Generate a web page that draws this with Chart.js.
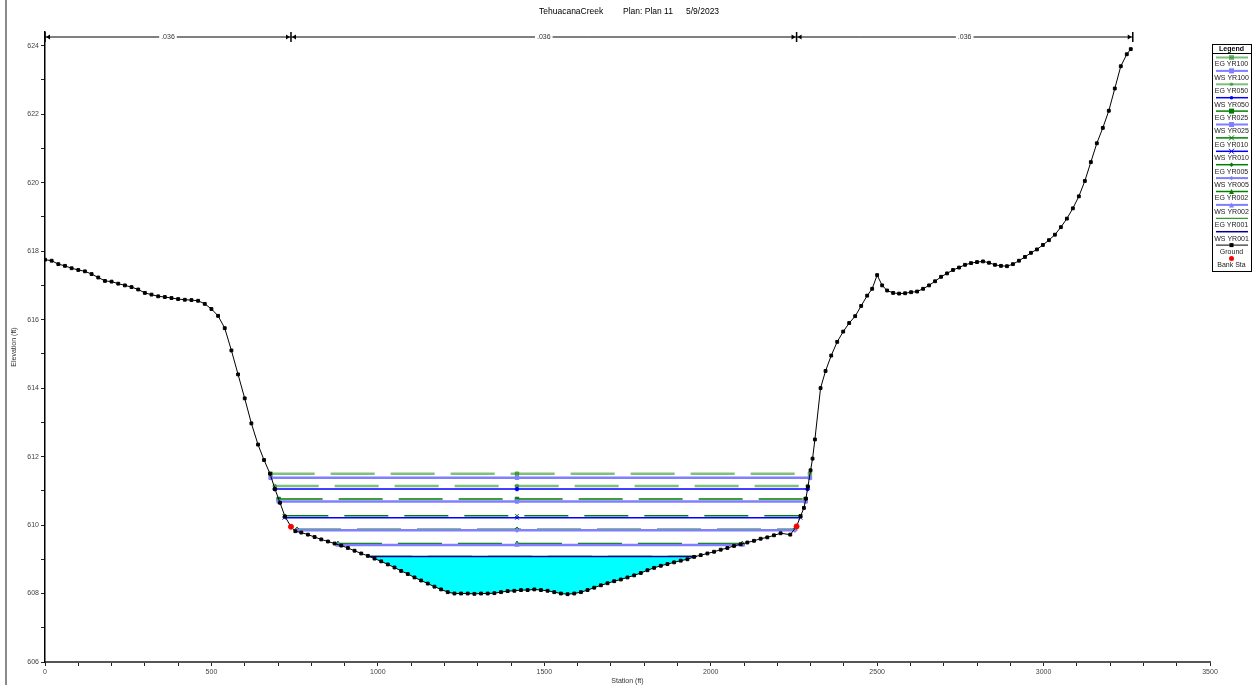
<!DOCTYPE html>
<html>
<head>
<meta charset="utf-8">
<script src="https://cdn.jsdelivr.net/npm/chart.js@4.4.0/dist/chart.umd.min.js"></script>
<style>
  html, body { margin: 0; padding: 0; background: #fff; overflow: hidden; }
  canvas { display: block; }
</style>
</head>
<body>
<canvas id="xs" width="1252" height="685"></canvas>
<script>
// ground profile (station ft, elevation ft)
const groundSta = [
  0, 20, 40, 60, 80, 100, 120, 140, 160, 180, 200, 220, 240, 260, 280, 300, 320, 340, 360, 380,
  400, 420, 440, 460, 480, 500, 520, 540, 560, 580, 600, 620, 640, 658, 676, 691, 706, 721, 739,
  752, 770, 790, 810, 830, 850, 870, 890, 910, 930, 950, 970, 990, 1010, 1030, 1050, 1070, 1090,
  1110, 1130, 1150, 1170, 1190, 1210, 1230, 1250, 1270, 1290, 1310, 1330, 1350, 1370, 1390, 1410,
  1430, 1450, 1470, 1490, 1510, 1530, 1550, 1570, 1590, 1610, 1630, 1650, 1670, 1690, 1710, 1730,
  1750, 1770, 1790, 1810, 1830, 1850, 1870, 1890, 1910, 1930, 1950, 1970, 1990, 2010, 2030, 2050,
  2070, 2090, 2110, 2130, 2150, 2170, 2190, 2210, 2239, 2258, 2270, 2280, 2286, 2292, 2300, 2306,
  2313, 2330, 2345, 2362, 2380, 2398, 2416, 2434, 2452, 2470, 2485, 2500, 2515, 2530, 2548, 2566,
  2584, 2602, 2620, 2638, 2656, 2674, 2692, 2710, 2728, 2746, 2764, 2782, 2800, 2818, 2836, 2854,
  2872, 2890, 2908, 2926, 2944, 2962, 2980, 2998, 3016, 3034, 3052, 3070, 3088, 3106, 3124, 3142,
  3160, 3178, 3196, 3214, 3232, 3250, 3262, 3268
];
const groundElev = [
  617.75, 617.72, 617.62, 617.57, 617.50, 617.45, 617.41, 617.33, 617.23, 617.13, 617.11, 617.05,
  617.00, 616.95, 616.88, 616.78, 616.73, 616.68, 616.66, 616.63, 616.60, 616.58, 616.57, 616.55,
  616.46, 616.31, 616.11, 615.75, 615.10, 614.40, 613.70, 612.97, 612.35, 611.90, 611.50, 611.05,
  610.65, 610.25, 609.95,
  609.82, 609.78, 609.72, 609.65, 609.58, 609.52, 609.46, 609.40, 609.33, 609.25, 609.17, 609.10,
  609.02, 608.94, 608.85, 608.76, 608.66, 608.57, 608.47, 608.38, 608.29, 608.20, 608.12, 608.04,
  608.00, 608.00, 608.00, 607.99, 608.00, 608.00, 608.01, 608.04, 608.07, 608.08, 608.10, 608.10,
  608.12, 608.10, 608.08, 608.04, 608.00, 607.98, 608.00, 608.04, 608.10, 608.17, 608.24, 608.30,
  608.36, 608.41, 608.47, 608.53, 608.60, 608.68, 608.75, 608.81, 608.86, 608.91, 608.96, 609.00,
  609.07, 609.12, 609.17, 609.22, 609.28, 609.33, 609.39, 609.44, 609.49, 609.54, 609.60, 609.64,
  609.70, 609.76, 609.72, 609.96, 610.26, 610.50, 610.77, 611.12, 611.60, 611.94,
  612.50, 614.00, 614.50, 614.95, 615.35, 615.65, 615.90, 616.10, 616.40, 616.70, 616.90, 617.30,
  617.00, 616.85, 616.78, 616.76, 616.77, 616.80, 616.82, 616.90, 617.00, 617.12, 617.25, 617.35,
  617.45, 617.52, 617.60, 617.65, 617.68, 617.70, 617.66, 617.60, 617.57, 617.56, 617.62, 617.72,
  617.83, 617.95, 618.05, 618.18, 618.32, 618.48, 618.70, 618.95, 619.25, 619.60, 620.05, 620.60,
  621.15, 621.60, 622.10, 622.75, 623.40, 623.75, 623.90
];
const bankSta = [739, 2258];
const bankElev = [609.95, 609.96];

// water surface / energy grade per profile
const profiles = ['YR100', 'YR050', 'YR025', 'YR010', 'YR005', 'YR002', 'YR001'];
const wsElev = [611.38, 611.05, 610.69, 610.21, 609.85, 609.42, 609.08];
const egElev = [611.50, 611.14, 610.76, 610.27, 609.88, 609.46, 609.09];
const leftSta = [678, 690, 702, 719, 757, 880, 970];
const rightSta = [2298, 2291, 2285, 2270, 2253, 2095, 1958];
const midSta = 1418;

// roughness bar across the top
const nBreaks = [0, 739, 2258, 3268];
const nValues = ['.036', '.036', '.036'];

// styling per profile
const egColors = ['rgba(0,128,0,0.5)', 'rgba(0,128,0,0.5)', '#008000', '#008000', '#008000', '#008000', '#008000'];
const egWidths = [2.5, 2.5, 1.5, 1.5, 1.5, 1.5, 1];
const wsColors = ['#7f7fff', '#0000ff', '#7f7fff', '#0000ff', '#7f7fff', '#7f7fff', '#00008b'];
const wsWidths = [2.5, 1.5, 2.5, 1.5, 2.5, 2.5, 1.5];
const markers = ['rect', 'circle', 'rect', 'crossRot', 'rectRot', 'triangle', false];
const markerSizes = [2.5, 1.8, 2.5, 2.5, 2.2, 2.5, 0];

const FONT = '"Liberation Sans", Arial, sans-serif';

const datasets = [];
profiles.forEach((p, i) => {
  const pts = (elev) => [{ x: leftSta[i], y: elev }, { x: midSta, y: elev }, { x: rightSta[i], y: elev }];
  datasets.push({
    label: 'EG ' + p,
    data: pts(egElev[i]),
    showLine: true,
    borderColor: egColors[i],
    backgroundColor: egColors[i],
    borderWidth: egWidths[i],
    borderDash: [44, 16],
    pointStyle: markers[i] || 'circle',
    pointRadius: markers[i] ? markerSizes[i] : 0,
    pointBorderWidth: 1,
    order: 10,
  });
  datasets.push({
    label: 'WS ' + p,
    data: pts(wsElev[i]),
    showLine: true,
    borderColor: wsColors[i],
    backgroundColor: wsColors[i],
    borderWidth: wsWidths[i],
    pointStyle: markers[i] || 'circle',
    pointRadius: markers[i] ? markerSizes[i] : 0,
    pointBorderWidth: 1,
    order: 9,
  });
});

const groundPts = groundSta.map((s, i) => ({ x: s, y: groundElev[i] }));
const wetPts = [{ x: leftSta[6], y: wsElev[6] }]
  .concat(groundPts.filter((p) => p.x > leftSta[6] && p.x < rightSta[6]))
  .concat([{ x: rightSta[6], y: wsElev[6] }]);

datasets.push({
  label: 'Ground',
  data: groundPts,
  showLine: true,
  borderColor: '#000',
  backgroundColor: '#000',
  borderWidth: 1,
  pointStyle: 'rect',
  pointRadius: 2,
  order: 2,
});
datasets.push({
  label: 'Bank Sta',
  data: bankSta.map((s, i) => ({ x: s, y: bankElev[i] })),
  showLine: false,
  borderColor: '#ff0000',
  backgroundColor: '#ff0000',
  pointStyle: 'circle',
  pointRadius: 2.5,
  order: 1,
});
datasets.push({
  label: 'wet',
  data: wetPts,
  showLine: true,
  borderWidth: 0,
  borderColor: 'rgba(0,0,0,0)',
  backgroundColor: '#00ffff',
  pointRadius: 0,
  fill: { value: wsElev[6] },
  order: 50,
});

function marker(ctx, style, x, y, r, color) {
  if (!style || !r) return;
  ctx.save();
  ctx.fillStyle = color;
  ctx.strokeStyle = color;
  ctx.lineWidth = 1;
  ctx.beginPath();
  if (style === 'rect') ctx.fillRect(x - r, y - r, 2 * r, 2 * r);
  else if (style === 'circle') { ctx.arc(x, y, r, 0, Math.PI * 2); ctx.fill(); }
  else if (style === 'rectRot') { ctx.moveTo(x, y - r); ctx.lineTo(x + r, y); ctx.lineTo(x, y + r); ctx.lineTo(x - r, y); ctx.closePath(); ctx.fill(); }
  else if (style === 'triangle') { ctx.moveTo(x, y - r); ctx.lineTo(x + r, y + r); ctx.lineTo(x - r, y + r); ctx.closePath(); ctx.fill(); }
  else if (style === 'crossRot') { ctx.moveTo(x - r, y - r); ctx.lineTo(x + r, y + r); ctx.moveTo(x + r, y - r); ctx.lineTo(x - r, y + r); ctx.stroke(); }
  ctx.restore();
}

const decorations = {
  id: 'decorations',
  beforeDraw(chart) {
    const ctx = chart.ctx;
    ctx.save();
    ctx.fillStyle = '#fff';
    ctx.fillRect(0, 0, chart.width, chart.height);
    ctx.fillStyle = '#8a8a8a';
    ctx.fillRect(5, 0, 2, chart.height);
    ctx.restore();
  },
  afterDraw(chart) {
    const ctx = chart.ctx;
    const xs = chart.scales.x;
    const area = chart.chartArea;
    ctx.save();

    // title
    ctx.fillStyle = '#000';
    ctx.font = '8.5px ' + FONT;
    ctx.textBaseline = 'middle';
    ctx.textAlign = 'left';
    ctx.fillText('TehuacanaCreek', 539, 12);
    ctx.fillText('Plan: Plan 11', 623, 12);
    ctx.fillText('5/9/2023', 686, 12);

    // axis titles
    ctx.fillStyle = '#333';
    ctx.font = '7px ' + FONT;
    ctx.textAlign = 'center';
    ctx.fillText('Station (ft)', (area.left + area.right) / 2, 681);
    ctx.save();
    ctx.translate(14, (area.top + area.bottom) / 2);
    ctx.rotate(-Math.PI / 2);
    ctx.fillText('Elevation (ft)', 0, 0);
    ctx.restore();

    // roughness bar
    const ny = 37;
    ctx.strokeStyle = '#000';
    ctx.fillStyle = '#000';
    ctx.lineWidth = 1;
    ctx.beginPath();
    ctx.moveTo(xs.getPixelForValue(nBreaks[0]), ny);
    ctx.lineTo(xs.getPixelForValue(nBreaks[nBreaks.length - 1]), ny);
    ctx.stroke();
    nBreaks.forEach((b, i) => {
      const px = xs.getPixelForValue(b);
      ctx.lineWidth = 1.5;
      ctx.beginPath();
      ctx.moveTo(px, ny - 5);
      ctx.lineTo(px, ny + 5);
      ctx.stroke();
      if (i > 0) {
        ctx.beginPath();
        ctx.moveTo(px - 1, ny);
        ctx.lineTo(px - 5, ny - 2.5);
        ctx.lineTo(px - 5, ny + 2.5);
        ctx.closePath();
        ctx.fill();
      }
      if (i < nBreaks.length - 1) {
        ctx.beginPath();
        ctx.moveTo(px + 1, ny);
        ctx.lineTo(px + 5, ny - 2.5);
        ctx.lineTo(px + 5, ny + 2.5);
        ctx.closePath();
        ctx.fill();
      }
    });
    ctx.font = '7px ' + FONT;
    ctx.textAlign = 'center';
    nValues.forEach((v, i) => {
      const cx = xs.getPixelForValue((nBreaks[i] + nBreaks[i + 1]) / 2);
      const w = ctx.measureText(v).width + 4;
      ctx.fillStyle = '#fff';
      ctx.fillRect(cx - w / 2, ny - 4, w, 8);
      ctx.fillStyle = '#333';
      ctx.fillText(v, cx, ny);
    });

    // legend box
    const lx = 1212, lw = 39, ltop = 44, lbot = 271;
    ctx.fillStyle = '#fff';
    ctx.fillRect(lx, ltop, lw, lbot - ltop);
    ctx.strokeStyle = '#000';
    ctx.lineWidth = 1;
    ctx.strokeRect(lx + 0.5, ltop + 0.5, lw, lbot - ltop);
    ctx.beginPath();
    ctx.moveTo(lx, 53.5);
    ctx.lineTo(lx + lw, 53.5);
    ctx.stroke();
    ctx.fillStyle = '#000';
    ctx.font = 'bold 7px ' + FONT;
    ctx.fillText('Legend', lx + lw / 2, 49);
    ctx.font = '7px ' + FONT;
    const items = chart.data.datasets.filter((d) => d.label !== 'wet');
    items.forEach((d, i) => {
      const ly = 57.5 + i * 13.4;
      const cx = lx + lw / 2;
      if (d.showLine) {
        ctx.save();
        ctx.strokeStyle = d.borderColor;
        ctx.lineWidth = Math.min(d.borderWidth, 2);
        ctx.beginPath();
        ctx.moveTo(lx + 4, ly);
        ctx.lineTo(lx + lw - 3, ly);
        ctx.stroke();
        ctx.restore();
      }
      if (d.pointRadius) marker(ctx, d.pointStyle, cx, ly, Math.max(d.pointRadius, 1.8), d.backgroundColor);
      ctx.fillStyle = '#222';
      ctx.fillText(d.label, cx, ly + 7);
    });
    ctx.restore();
  },
};

new Chart(document.getElementById('xs'), {
  type: 'scatter',
  data: { datasets },
  plugins: [decorations],
  options: {
    responsive: false,
    devicePixelRatio: 1,
    animation: false,
    layout: { padding: { top: 32, right: 42, left: 0, bottom: 0 } },
    plugins: { legend: { display: false }, tooltip: { enabled: false } },
    elements: { line: { tension: 0 } },
    scales: {
      x: {
        type: 'linear',
        min: 0,
        max: 3500,
        afterFit: (s) => { s.height = 23; },
        border: { color: '#555', width: 2 },
        grid: { drawOnChartArea: false, drawTicks: true, tickLength: 4, color: '#222' },
        ticks: {
          stepSize: 100,
          autoSkip: false,
          maxRotation: 0,
          padding: 2,
          color: '#444',
          font: { family: FONT, size: 7 },
          callback: (v) => (v % 500 === 0 ? String(v) : ''),
        },
      },
      y: {
        type: 'linear',
        min: 606,
        max: 624.4,
        afterFit: (s) => { s.width = 45; },
        border: { color: '#000', width: 1.5 },
        grid: { drawOnChartArea: false, drawTicks: true, tickLength: 4, color: '#222' },
        ticks: {
          stepSize: 1,
          includeBounds: false,
          autoSkip: false,
          padding: 2,
          color: '#444',
          font: { family: FONT, size: 7 },
          callback: (v) => (v % 2 === 0 ? String(v) : ''),
        },
      },
    },
  },
});
</script>
</body>
</html>
